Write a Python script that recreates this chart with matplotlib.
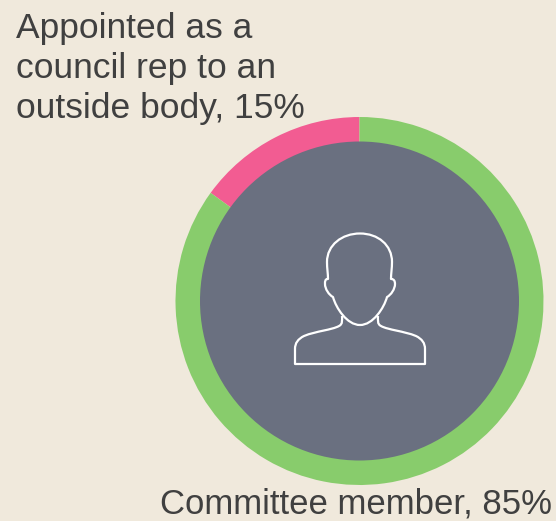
import matplotlib
matplotlib.use('Agg')
import matplotlib.pyplot as plt
from matplotlib.path import Path
from matplotlib.patches import PathPatch, Circle

# share of each role, pink slice first so it runs left from the top
top_label = ['Appointed as a', 'council rep to an', 'outside body, 15%']
bottom_label = 'Committee member, 85%'
values = [15, 85]
colors = ['#f25c92', '#88cc6c']

BG = '#f0e9dc'
GREY = '#6a7080'
W, H = 556, 521

plt.rcParams['font.family'] = ['Liberation Sans', 'DejaVu Sans']

fig = plt.figure(figsize=(W / 100, H / 100), dpi=100, facecolor=BG)

# ring, 368px across with its centre at (359.5, 301)
ax = fig.add_axes([175.5 / W, (H - 485) / H, 368 / W, 368 / H])
ax.pie(values, colors=colors, startangle=90, radius=1,
       wedgeprops={'linewidth': 0})
ax.set_xlim(-1, 1)
ax.set_ylim(-1, 1)
ax.add_patch(Circle((0, 0), 159.5 / 184, color=GREY, lw=0, zorder=5))

# overlay in pixel coordinates for the icon and the labels
ov = fig.add_axes([0, 0, 1, 1])
ov.set_xlim(0, W)
ov.set_ylim(H, 0)
ov.axis('off')

M, L, C = Path.MOVETO, Path.LINETO, Path.CURVE4

# shoulders and neck
body = [
    ((342, 316), M),
    ((342, 320), C), ((343, 324), C), ((339, 326), C),
    ((332, 330), C), ((316, 331), C), ((304, 336), C),
    ((298, 339), C), ((295, 343), C), ((295, 349), C),
    ((295, 364), L),
    ((425, 364), L),
    ((425, 349), L),
    ((425, 343), C), ((422, 339), C), ((416, 336), C),
    ((404, 331), C), ((388, 330), C), ((381, 326), C),
    ((377, 324), C), ((378, 320), C), ((378, 316), C),
]
ov.add_patch(PathPatch(Path([p for p, c in body], [c for p, c in body]),
                       fc='none', ec='white', lw=1.6, joinstyle='round', zorder=6))

# head with ears and chin
head = [
    ((360, 325), M),
    ((347, 325), C), ((336, 308), C), ((333, 297), C),
    ((329, 295), C), ((325, 289), C), ((325, 284), C),
    ((325, 281), C), ((325, 279), C), ((328, 279), C),
    ((328, 274), C), ((327, 268), C), ((327, 262), C),
    ((327, 245), C), ((342, 233.5), C), ((360, 233.5), C),
    ((378, 233.5), C), ((392, 245), C), ((392, 262), C),
    ((392, 268), C), ((391, 274), C), ((391, 279), C),
    ((394, 279), C), ((395, 281), C), ((395, 284), C),
    ((395, 289), C), ((391, 295), C), ((387, 297), C),
    ((384, 308), C), ((373, 325), C), ((360, 325), C),
]
ov.add_patch(PathPatch(Path([p for p, c in head], [c for p, c in head]),
                       fc='none', ec='white', lw=1.6, joinstyle='round', zorder=7))

for line, y in zip(top_label, [38, 78, 118]):
    ov.text(16, y, line, fontsize=25.5, color='#404040', ha='left', va='baseline')
ov.text(160, 514, bottom_label, fontsize=25, color='#404040', ha='left', va='baseline')

fig.savefig('out.png', dpi=100, facecolor=BG)
